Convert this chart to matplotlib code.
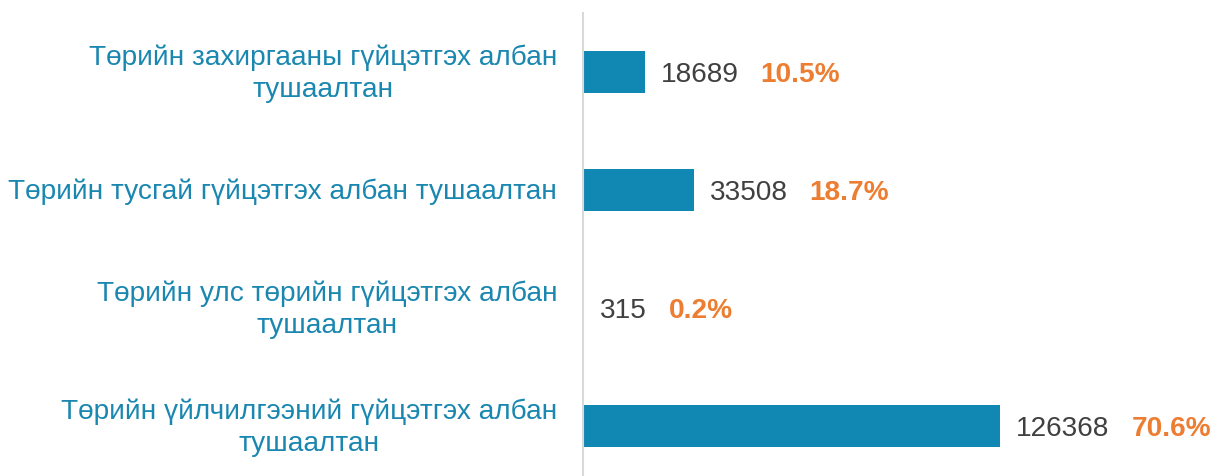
import matplotlib.pyplot as plt
import matplotlib.transforms as mtransforms

plt.rcParams['font.family'] = ['Liberation Sans', 'DejaVu Sans']

categories = [
    'Төрийн захиргааны гүйцэтгэх албан\nтушаалтан',
    'Төрийн тусгай гүйцэтгэх албан тушаалтан',
    'Төрийн улс төрийн гүйцэтгэх албан\nтушаалтан',
    'Төрийн үйлчилгээний гүйцэтгэх албан\nтушаалтан',
]
counts = [18689, 33508, 315, 126368]
shares = ['10.5%', '18.7%', '0.2%', '70.6%']

bar_color = '#1188b4'
label_color = '#1a87b0'
num_color = '#404040'
pct_color = '#ed7d31'

fig = plt.figure(figsize=(12.29, 4.77), dpi=100)
ax = fig.add_axes([583 / 1229, -9 / 477, 646 / 1229, 472 / 477])

y = list(range(len(categories)))
ax.barh(y, counts, height=0.36, color=bar_color)
ax.set_ylim(len(categories) - 0.5, -0.5)
ax.set_xlim(0, 646 / 417 * max(counts))

ax.set_yticks(y)
ax.set_yticklabels(categories, fontsize=20.2, color=label_color,
                   multialignment='center', linespacing=1.3)
ax.tick_params(axis='y', length=0, pad=18.5)
ax.tick_params(axis='x', bottom=False, labelbottom=False)

# nudge the labels up a little, two-line ones a bit more
for lab in ax.get_yticklabels():
    dy = 5 if '\n' in lab.get_text() else 2
    lab.set_transform(lab.get_transform() +
                      mtransforms.ScaledTranslation(0, dy / 100, fig.dpi_scale_trans))

for side in ['top', 'right', 'bottom']:
    ax.spines[side].set_visible(False)
ax.spines['left'].set_color('#d9d9d9')
ax.spines['left'].set_linewidth(1.5)

for yi, c, s in zip(y, counts, shares):
    t = ax.annotate(str(c), xy=(c, yi), xytext=(16, -2), textcoords='offset pixels',
                    ha='left', va='center', fontsize=20.2, color=num_color)
    ax.annotate(s, xy=(1, 0.5), xycoords=t, xytext=(22, 0),
                textcoords='offset pixels', ha='left', va='center',
                fontsize=20.2, color=pct_color, fontweight='bold')

fig.savefig('out.png', dpi=100)
